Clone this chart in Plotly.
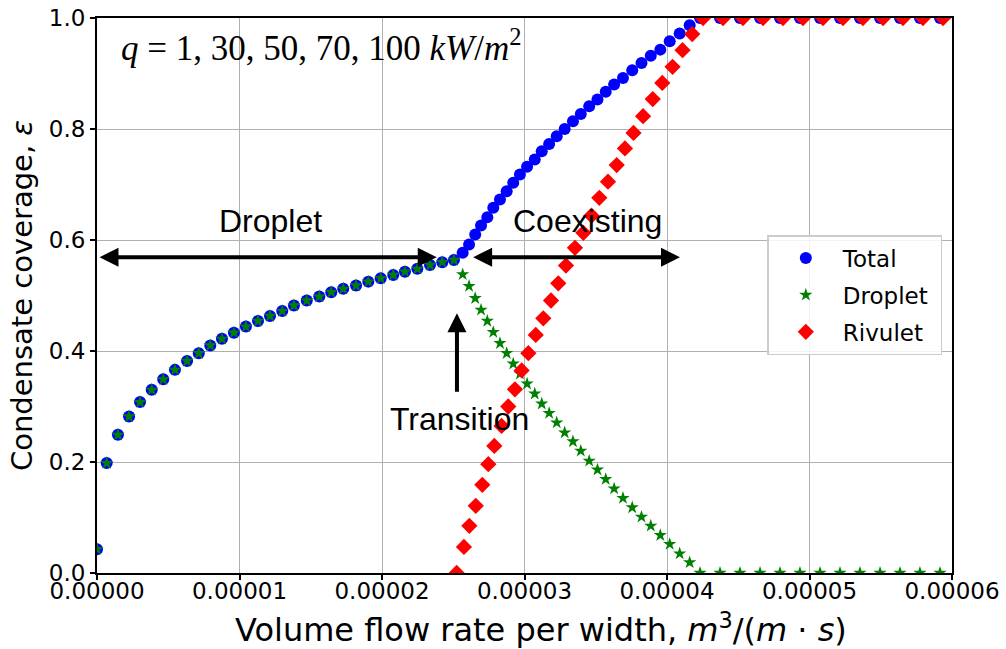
import plotly.graph_objects as go

# x values in units of 1e-5 m^3/(m s)
x_main_e5 = [0.0, 0.068, 0.147, 0.225, 0.302, 0.384, 0.465, 0.547, 0.632, 0.714, 0.795,
             0.877, 0.961, 1.045, 1.130, 1.214, 1.300, 1.382, 1.472, 1.560, 1.644,
             1.728, 1.818, 1.904, 1.991, 2.079, 2.161, 2.248, 2.337, 2.423, 2.505,
             2.566, 2.611, 2.654, 2.695, 2.739, 2.781, 2.828, 2.875, 2.921, 2.968,
             3.018, 3.072, 3.121, 3.173, 3.226, 3.282, 3.340, 3.395, 3.454, 3.512,
             3.570, 3.629, 3.691, 3.756, 3.821, 3.886, 3.953, 4.019, 4.089, 4.159,
             4.232, 4.372, 4.512, 4.653, 4.793, 4.933, 5.074, 5.214, 5.354, 5.495,
             5.635, 5.775, 5.916]

total = [0.043, 0.198, 0.249, 0.282, 0.308, 0.330, 0.349, 0.366, 0.382, 0.396, 0.410,
         0.422, 0.433, 0.444, 0.454, 0.463, 0.472, 0.482, 0.491, 0.498, 0.506,
         0.512, 0.518, 0.525, 0.531, 0.537, 0.543, 0.548, 0.555, 0.560, 0.564,
         0.577, 0.592, 0.610, 0.626, 0.641, 0.658, 0.673, 0.688, 0.703, 0.718,
         0.732, 0.745, 0.760, 0.773, 0.787, 0.800, 0.814, 0.827, 0.841, 0.853,
         0.867, 0.880, 0.892, 0.906, 0.919, 0.932, 0.943, 0.958, 0.972, 0.987,
         1.0, 1.0, 1.0, 1.0, 1.0, 1.0, 1.0, 1.0, 1.0, 1.0,
         1.0, 1.0, 1.0]

droplet = [0.043, 0.198, 0.249, 0.282, 0.308, 0.330, 0.349, 0.366, 0.382, 0.396, 0.410,
           0.422, 0.433, 0.444, 0.454, 0.463, 0.472, 0.482, 0.491, 0.498, 0.506,
           0.512, 0.518, 0.525, 0.531, 0.537, 0.543, 0.548, 0.555, 0.560, 0.564,
           0.538, 0.517, 0.495, 0.474, 0.454, 0.434, 0.414, 0.396, 0.377, 0.359,
           0.341, 0.323, 0.305, 0.288, 0.271, 0.253, 0.237, 0.220, 0.202, 0.186,
           0.169, 0.152, 0.135, 0.118, 0.101, 0.085, 0.068, 0.052, 0.035, 0.019,
           0.0, 0.0, 0.0, 0.0, 0.0, 0.0, 0.0, 0.0, 0.0, 0.0,
           0.0, 0.0, 0.0]

x_rivulet_e5 = [2.524, 2.575, 2.613, 2.658, 2.704, 2.746, 2.788, 2.839, 2.886, 2.933,
                2.980, 3.027, 3.079, 3.132, 3.186, 3.237, 3.291, 3.354, 3.413, 3.470,
                3.525, 3.586, 3.647, 3.705, 3.765, 3.832, 3.900, 3.967, 4.039, 4.109,
                4.177, 4.253, 4.393, 4.533, 4.674, 4.814, 4.954, 5.095, 5.235, 5.375,
                5.516, 5.656, 5.796, 5.937]
rivulet = [0.0, 0.047, 0.085, 0.121, 0.159, 0.196, 0.229, 0.265, 0.300, 0.331,
           0.365, 0.396, 0.429, 0.459, 0.491, 0.522, 0.554, 0.586, 0.613, 0.644,
           0.676, 0.705, 0.735, 0.765, 0.793, 0.823, 0.854, 0.883, 0.912, 0.942,
           0.971, 1.0, 1.0, 1.0, 1.0, 1.0, 1.0, 1.0, 1.0, 1.0,
           1.0, 1.0, 1.0, 1.0]

x_ticks = [0, 1e-5, 2e-5, 3e-5, 4e-5, 5e-5, 6e-5]
x_tick_labels = ["0.00000", "0.00001", "0.00002", "0.00003", "0.00004", "0.00005", "0.00006"]
y_ticks = [0.0, 0.2, 0.4, 0.6, 0.8, 1.0]
y_tick_labels = ["0.0", "0.2", "0.4", "0.6", "0.8", "1.0"]

x_main = [v * 1e-5 for v in x_main_e5]
x_riv = [v * 1e-5 for v in x_rivulet_e5]

pad = "&nbsp;"

fig = go.Figure()
fig.add_trace(go.Scatter(x=x_main, y=total, mode="markers", name="Total" + pad,
                         legendgroup="a",
                         marker=dict(symbol="circle", size=12, color="#0000ff")))
fig.add_trace(go.Scatter(x=x_main, y=droplet, mode="markers", name="Droplet" + pad,
                         legendgroup="b",
                         marker=dict(symbol="star", size=10, color="#008000")))
fig.add_trace(go.Scatter(x=x_riv, y=rivulet, mode="markers", name="Rivulet" + pad,
                         legendgroup="c",
                         marker=dict(symbol="diamond", size=12.5, color="#ff0000")))

arrow_common = dict(xref="x", yref="y", axref="x", ayref="y", showarrow=True, text="",
                    arrowhead=2, startarrowhead=2, arrowwidth=4, arrowsize=0.95,
                    startarrowsize=0.95, arrowcolor="black")
annotations = [
    dict(x=2.384e-5, y=0.569, ax=0.007e-5, ay=0.569, arrowside="end+start", **arrow_common),
    dict(x=4.091e-5, y=0.569, ax=2.629e-5, ay=0.569, arrowside="end+start", **arrow_common),
    dict(x=2.526e-5, y=0.468, ax=2.526e-5, ay=0.324, arrowside="end", **arrow_common),
    dict(x=1.214e-5, y=0.634, xref="x", yref="y", showarrow=False, text="Droplet",
         font=dict(family="Liberation Sans", size=32, color="black")),
    dict(x=3.439e-5, y=0.634, xref="x", yref="y", showarrow=False, text="Coexisting",
         font=dict(family="Liberation Sans", size=32, color="black")),
    dict(x=2.547e-5, y=0.278, xref="x", yref="y", showarrow=False, text="Transition",
         font=dict(family="Liberation Sans", size=32, color="black")),
    dict(x=0.026, y=0.950, xref="paper", yref="paper", xanchor="left", yanchor="middle",
         showarrow=False,
         text="<i>q</i> = 1, 30, 50, 70, 100 <i>kW</i>/<i>m</i><sup>2</sup>",
         font=dict(family="Liberation Serif", size=35, color="black")),
    # x-axis title
    dict(x=0.519, y=-0.0991, xref="paper", yref="paper", xanchor="center", yanchor="middle",
         showarrow=False,
         text="Volume flow rate per width, <i>m</i><sup>3</sup>/(<i>m</i> · <i>s</i>)",
         font=dict(family="DejaVu Sans", size=32, color="black")),
]

axis_common = dict(showgrid=True, gridcolor="#b0b0b0", gridwidth=1.2,
                   showline=True, linecolor="black", linewidth=2, mirror=True,
                   ticks="outside", ticklen=5, tickwidth=1.5, tickcolor="black",
                   zeroline=False, automargin=False,
                   tickfont=dict(family="DejaVu Sans", size=23, color="black"))

fig.update_layout(
    width=1006, height=649,
    margin=dict(l=97, r=54, t=18, b=76),
    paper_bgcolor="white", plot_bgcolor="white",
    annotations=annotations,
    xaxis=dict(range=[0, 6e-5], tickvals=x_ticks, ticktext=x_tick_labels,
               ticklabelstandoff=-9, **axis_common),
    yaxis=dict(range=[0, 1], tickvals=y_ticks, ticktext=y_tick_labels,
               title=dict(text="Condensate coverage, <i>ε</i>",
                          font=dict(family="DejaVu Sans", size=29, color="black"), standoff=8),
               **axis_common),
    legend=dict(x=0.784, y=0.609, xanchor="left", yanchor="top",
                bgcolor="rgba(255,255,255,0.85)", bordercolor="#cccccc", borderwidth=1.5,
                font=dict(family="DejaVu Sans", size=23, color="black"),
                tracegroupgap=4, itemwidth=64),
    showlegend=True,
)

fig.write_html("out.html")
